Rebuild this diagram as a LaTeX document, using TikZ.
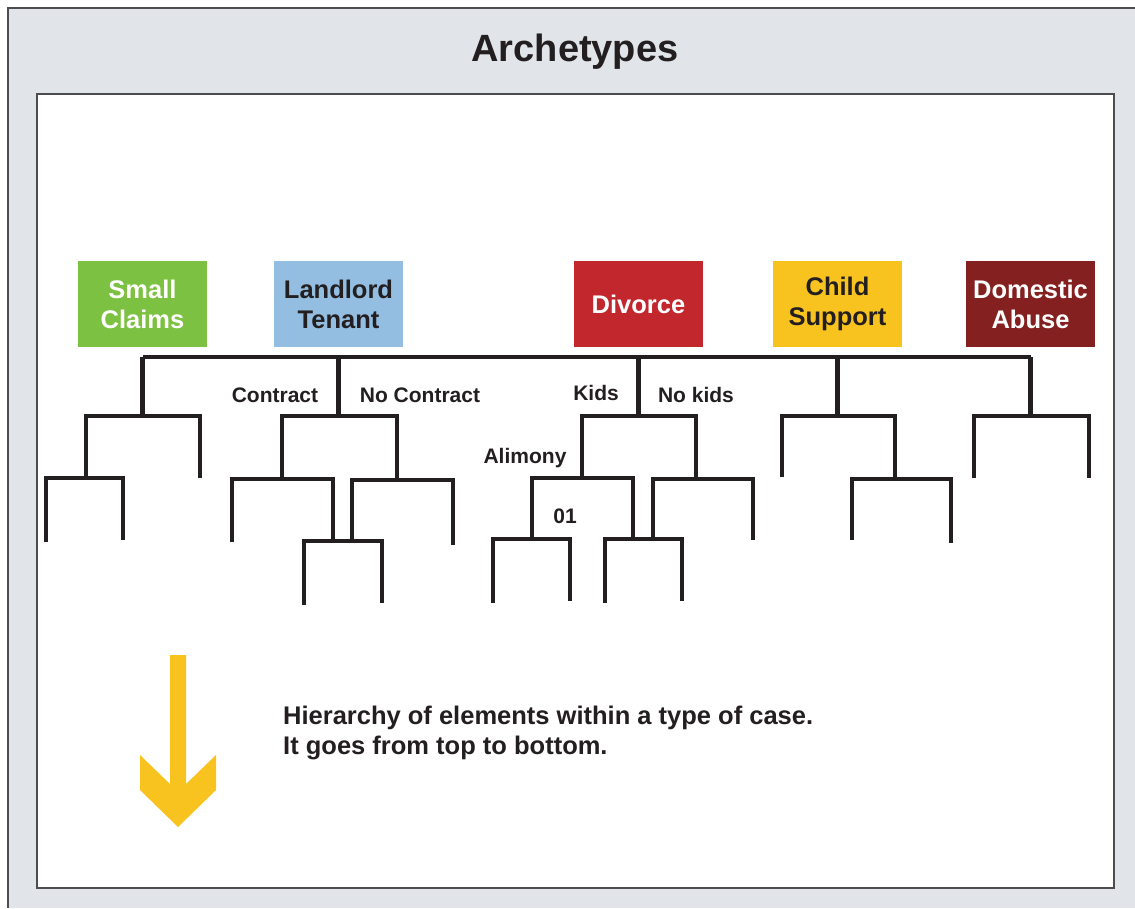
\documentclass[tikz,border=0pt]{standalone}
\usepackage{fontspec}
\setmainfont{Liberation Sans}
\definecolor{framegray}{HTML}{E1E4E9}
\definecolor{framedark}{HTML}{4D4D4F}
\definecolor{ink}{HTML}{231F20}
\definecolor{claimsgreen}{HTML}{7DC142}
\definecolor{tenantblue}{HTML}{93BDE1}
\definecolor{divorcered}{HTML}{C1272D}
\definecolor{supportyellow}{HTML}{F8C21F}
\definecolor{abusered}{HTML}{84201F}
\tikzset{
  casebox/.style={minimum width=129pt, minimum height=86pt, inner sep=0pt, align=center,
    font=\fontsize{25.5}{30}\selectfont\bfseries},
  branch/.style={draw=ink, line width=4.5pt, line join=miter},
  lbl/.style={text=ink, inner sep=0pt, font=\fontsize{21}{24}\selectfont\bfseries}
}
\begin{document}
\begin{tikzpicture}[x=1pt,y=-1pt]
\useasboundingbox (0,0) rectangle (1135,908);
%Frame
  \fill[framegray] (8,8) rectangle (1135,908);
  \draw[framedark, line width=1.5pt] (8,908) -- (8,8) -- (1135,8);
  \filldraw[fill=white, draw=framedark, line width=1.5pt] (37,94) rectangle (1114,888);
  \node[text=ink, font=\fontsize{38}{44}\selectfont\bfseries] (title) at (575,52) {Archetypes};
%Types of case
  \node[casebox, fill=claimsgreen, text=white] (sc) at (142.5,304) {Small\\Claims};
  \node[casebox, fill=tenantblue, text=ink] (lt) at (338.5,304) {Landlord\\Tenant};
  \node[casebox, fill=divorcered, text=white] (dv) at (638.5,304) {Divorce};
  \node[casebox, fill=supportyellow, text=ink] (cs) at (837.5,304) {Child\\Support};
  \node[casebox, fill=abusered, text=white] (da) at (1030.5,304) {Domestic\\Abuse};
  \coordinate (bar) at (0,357);
  %main bar
  \draw[branch] (sc.south |- bar) -- (da.south |- bar);
  \foreach \c in {sc,lt,dv,cs,da} {
      \draw[branch] (\c.south |- bar) -- ([yshift=-59pt]\c.south |- bar);
  }
  %Small claims
  \draw[branch] (86,477) -- (86,416) -- (200,416) -- (200,478);
  \draw[branch] (46,542) -- (46,478) -- (123,478) -- (123,540);
  %Landlord tenant
  \draw[branch] (282,478) -- (282,416) -- (397,416) -- (397,479);
  \draw[branch] (232,542) -- (232,479) -- (333,479) -- (333,541);
  \draw[branch] (352,541) -- (352,480) -- (453,480) -- (453,545);
  \draw[branch] (304,605) -- (304,541) -- (382,541) -- (382,603);
  %Divorce
  \draw[branch] (582,478) -- (582,416) -- (696,416) -- (696,479);
  \draw[branch] (532,539) -- (532,478) -- (633,478) -- (633,539);
  \draw[branch] (653,539) -- (653,479) -- (753,479) -- (753,540);
  \draw[branch] (493,603) -- (493,539) -- (570,539) -- (570,601);
  \draw[branch] (605,603) -- (605,539) -- (682,539) -- (682,601);
  %Child support
  \draw[branch] (782,477) -- (782,416) -- (895,416) -- (895,479);
  \draw[branch] (852,540) -- (852,479) -- (951,479) -- (951,543);
  %Domestic abuse
  \draw[branch] (974,478) -- (974,416) -- (1089,416) -- (1089,478);
  %Branch labels
  \node[lbl] (contract) at (275,395) {Contract};
  \node[lbl] (nocontract) at (420,395) {No Contract};
  \node[lbl] (kids) at (596,393) {Kids};
  \node[lbl] (nokids) at (696,395) {No kids};
  \node[lbl] (alimony) at (525,458) {Alimony};
  \node[lbl] (one) at (565,516) {01};
%Legend
  \fill[supportyellow] (170,655) -- (186,655) -- (186,784) -- (216,755) -- (216,790)
      -- (178,827) -- (140,790) -- (140,755) -- (170,784) -- cycle;
  \node[anchor=west, align=left, text=ink, inner sep=0pt,
      font=\fontsize{25.5}{30}\selectfont\bfseries] (legend) at (283,733)
      {Hierarchy of elements within a type of case.\\It goes from top to bottom.};
\end{tikzpicture}
\end{document}
